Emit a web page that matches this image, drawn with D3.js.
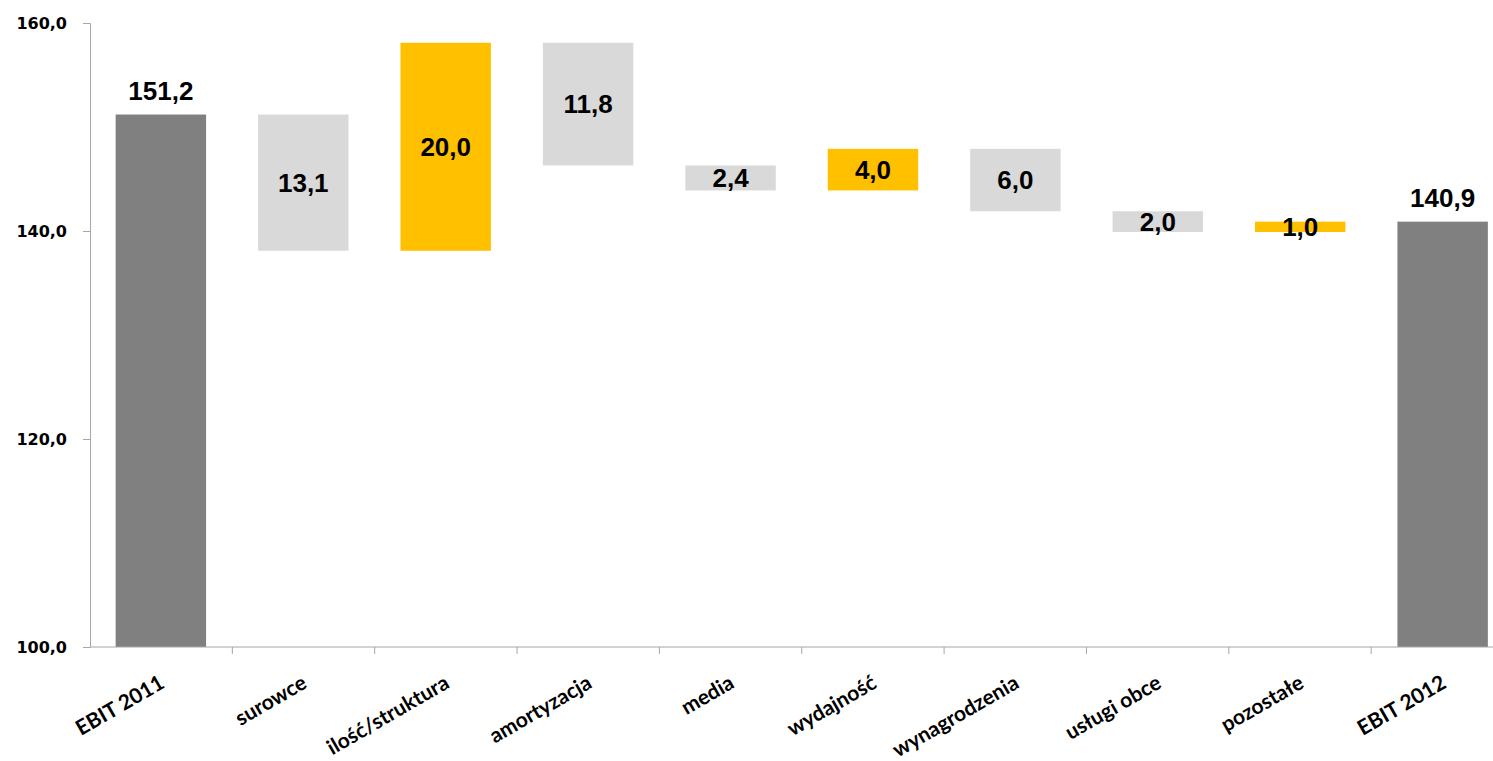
<!DOCTYPE html>
<html>
<head>
<meta charset="utf-8">
<script src="https://cdn.jsdelivr.net/npm/d3@7"></script>
<style>
  body { margin: 0; background: #fff; }
  svg { display: block; }
</style>
</head>
<body>
<div id="chart"></div>
<script>
const categories = ["EBIT 2011", "surowce", "ilość/struktura", "amortyzacja", "media", "wydajność", "wynagrodzenia", "usługi obce", "pozostałe", "EBIT 2012"];
// bar start and end (EBIT columns start at the axis floor)
const starts = [100, 151.2, 138.1, 158.1, 146.3, 143.9, 147.9, 141.9, 139.9, 100];
const ends = [151.2, 138.1, 158.1, 146.3, 143.9, 147.9, 141.9, 139.9, 140.9, 140.9];
const labels = ["151,2", "13,1", "20,0", "11,8", "2,4", "4,0", "6,0", "2,0", "1,0", "140,9"];
const kinds = ["total", "down", "up", "down", "down", "up", "down", "down", "up", "total"];
const yTicks = [100, 120, 140, 160];

const width = 1493, height = 761;
const colors = { total: "#808080", down: "#d9d9d9", up: "#ffc000" };

const svg = d3.select("#chart").append("svg")
  .attr("width", width)
  .attr("height", height);

const x = d3.scaleBand()
  .domain(categories)
  .range([90, 1513.5])
  .paddingInner(0.365)
  .paddingOuter(0.18);

const y = d3.scaleLinear()
  .domain([100, 160])
  .range([647, 23]);

const data = categories.map((c, i) => ({
  cat: c, start: starts[i], end: ends[i], label: labels[i], kind: kinds[i]
}));

// bars
svg.append("g").selectAll("rect")
  .data(data)
  .join("rect")
  .attr("x", d => x(d.cat))
  .attr("width", x.bandwidth())
  .attr("y", d => y(Math.max(d.start, d.end)))
  .attr("height", d => Math.abs(y(d.start) - y(d.end)))
  .attr("fill", d => colors[d.kind]);

// axes
const axisColor = "#a6a6a6";
const step = (1513.5 - 90) / categories.length;

const gy = svg.append("g").attr("transform", "translate(90,0)")
  .call(d3.axisLeft(y).tickValues(yTicks).tickSize(7).tickPadding(16)
    .tickFormat(d => d3.format(".1f")(d).replace(".", ",")));
gy.select(".domain").attr("stroke", axisColor);
gy.selectAll(".tick line").attr("stroke", axisColor);
gy.selectAll(".tick text")
  .attr("fill", "#000")
  .style("font-family", "'DejaVu Sans', Verdana, sans-serif")
  .style("font-weight", "bold")
  .style("font-size", "16px");

// x axis baseline and ticks between categories
svg.append("line")
  .attr("x1", 90).attr("x2", width)
  .attr("y1", y(100)).attr("y2", y(100))
  .attr("stroke", axisColor);
svg.append("g").selectAll("line")
  .data(d3.range(1, categories.length))
  .join("line")
  .attr("x1", i => 90 + i * step).attr("x2", i => 90 + i * step)
  .attr("y1", y(100)).attr("y2", y(100) + 7)
  .attr("stroke", axisColor);

// category labels
svg.append("g").selectAll("text")
  .data(categories)
  .join("text")
  .attr("transform", c => `translate(${x(c) + x.bandwidth() / 2 + 5},${y(100) + 40}) rotate(-30)`)
  .attr("text-anchor", "end")
  .style("font-family", "Lato, 'Open Sans', sans-serif")
  .style("font-weight", "bold")
  .style("font-size", "21px")
  .text(c => c);

// value labels
svg.append("g").selectAll("text")
  .data(data)
  .join("text")
  .attr("x", d => x(d.cat) + x.bandwidth() / 2)
  .attr("y", d => d.kind === "total" ? y(d.end) - 15 : (y(d.start) + y(d.end)) / 2)
  .attr("dy", d => d.kind === "total" ? "0" : "0.36em")
  .attr("text-anchor", "middle")
  .style("font-family", "Arial, 'Liberation Sans', sans-serif")
  .style("font-weight", "bold")
  .style("font-size", "26px")
  .text(d => d.label);
</script>
</body>
</html>
